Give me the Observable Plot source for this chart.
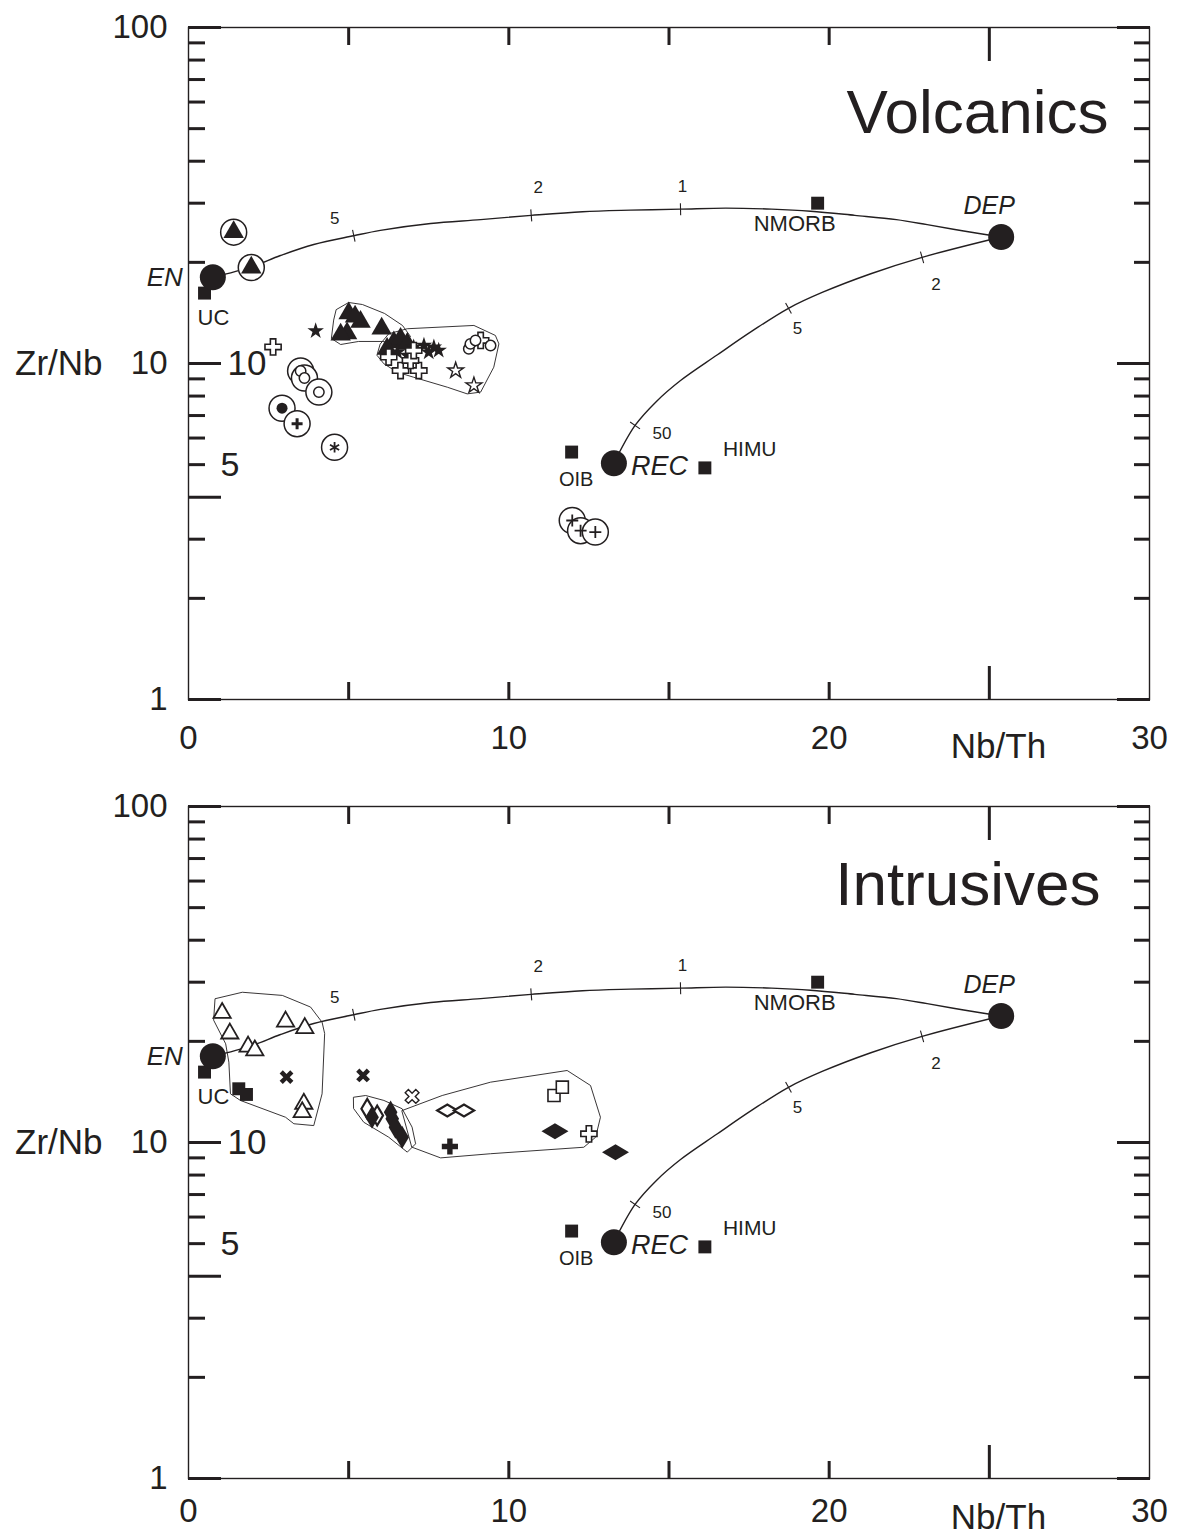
<!DOCTYPE html>
<html>
<head>
<meta charset="utf-8">
<script src="https://cdn.jsdelivr.net/npm/d3@7"></script>
<script src="https://cdn.jsdelivr.net/npm/@observablehq/plot@0.6"></script>
<style>
  body { margin: 0; background: #fff; }
  #chart { width: 1177px; height: 1535px; overflow: hidden; }
  #chart svg { display: block; }
</style>
</head>
<body>
<div id="chart"></div>
<script>
// ---------------------------------------------------------------
// Axis tick values
// ---------------------------------------------------------------
const yOuterLabels = [1, 10, 100];
const yInnerLabels = [10, 5];
const yMajorLeft = [1, 4, 10, 100];
const yMinorLeft = [2, 3, 5, 6, 7, 8, 9, 20, 30, 40, 50, 60, 70, 80, 90];
const yMajorRight = [1, 10, 100];
const yMinorRight = [2, 3, 4, 5, 6, 7, 8, 9, 20, 30, 40, 50, 60, 70, 80, 90];
const xTicksShort = [5, 10, 15, 20];
const xTicksLong = [25];
const xLabels = [0, 10, 20, 30];

// ---------------------------------------------------------------
// Mixing end-members and reference reservoirs (Nb/Th, Zr/Nb)
// ---------------------------------------------------------------
const endMembers = [
  {name: "EN", x: 0.76, y: 18.06},
  {name: "DEP", x: 25.37, y: 23.8},
  {name: "REC", x: 13.28, y: 5.05}
];
const reservoirs = [
  {name: "UC", x: 0.5, y: 16.2},
  {name: "NMORB", x: 19.64, y: 30.0},
  {name: "OIB", x: 11.96, y: 5.45},
  {name: "HIMU", x: 16.12, y: 4.89}
];

// Mixing curves
const mixEnDep = [
  {x: 0.76, y: 18.06}, {x: 1.96, y: 19.4}, {x: 2.87, y: 20.96}, {x: 3.91, y: 22.6},
  {x: 5.16, y: 24.0}, {x: 5.99, y: 24.9}, {x: 7.56, y: 26.1}, {x: 9.12, y: 26.8},
  {x: 10.7, y: 27.6}, {x: 12.3, y: 28.3}, {x: 13.8, y: 28.6}, {x: 15.36, y: 28.8},
  {x: 16.77, y: 29.0}, {x: 18.2, y: 28.8}, {x: 19.42, y: 28.4}, {x: 20.8, y: 27.6},
  {x: 22.1, y: 26.8}, {x: 23.06, y: 25.9}, {x: 24.2, y: 24.8}, {x: 25.37, y: 23.8}
];
const mixRecDep = [
  {x: 13.28, y: 5.05}, {x: 13.94, y: 6.54}, {x: 14.6, y: 7.7}, {x: 15.36, y: 8.9},
  {x: 16.5, y: 10.6}, {x: 17.6, y: 12.5}, {x: 18.73, y: 14.6}, {x: 19.8, y: 16.3},
  {x: 21.3, y: 18.5}, {x: 22.9, y: 20.7}, {x: 25.37, y: 23.8}
];
// Proportion ticks along the curves
const mixTicks = [
  {curve: "EN-DEP", label: "5", x: 5.16, y: 24.0},
  {curve: "EN-DEP", label: "2", x: 10.7, y: 27.6},
  {curve: "EN-DEP", label: "1", x: 15.36, y: 28.8},
  {curve: "REC-DEP", label: "50", x: 13.94, y: 6.54},
  {curve: "REC-DEP", label: "5", x: 18.73, y: 14.6},
  {curve: "REC-DEP", label: "2", x: 22.9, y: 20.7}
];

// ---------------------------------------------------------------
// Samples
// ---------------------------------------------------------------
const volcanics = [
  {mark: "triFill", ring: true, x: 1.41, y: 24.6},
  {mark: "triFill", ring: true, x: 1.96, y: 19.3},
  {mark: "starFill", x: 3.97, y: 12.5},
  {mark: "crossOpen", x: 2.64, y: 11.2},
  {mark: "dotOpen", ring: true, x: 3.5, y: 9.5},
  {mark: "dotOpen", ring: true, x: 3.62, y: 9.05},
  {mark: "dotOpen", ring: true, x: 4.07, y: 8.22},
  {mark: "dotFill", ring: true, x: 2.92, y: 7.36},
  {mark: "plusBold", ring: true, x: 3.39, y: 6.62},
  {mark: "asterisk", ring: true, x: 4.56, y: 5.63},
  {mark: "plusThin", ring: true, x: 11.98, y: 3.41},
  {mark: "plusThin", ring: true, x: 12.24, y: 3.18},
  {mark: "plusThin", ring: true, x: 12.7, y: 3.15},
  {mark: "triFill", x: 5.0, y: 14.1},
  {mark: "triFill", x: 5.37, y: 13.3},
  {mark: "triFill", x: 5.2, y: 13.8},
  {mark: "triFill", x: 4.95, y: 12.3},
  {mark: "triFill", x: 4.75, y: 12.2},
  {mark: "triFill", x: 6.03, y: 12.7},
  {mark: "triFill", x: 6.41, y: 11.57},
  {mark: "triFill", x: 6.62, y: 11.84},
  {mark: "triFill", x: 6.2, y: 11.06},
  {mark: "triFill", x: 6.83, y: 11.44},
  {mark: "starFill", x: 7.03, y: 11.18},
  {mark: "starFill", x: 7.35, y: 11.31},
  {mark: "starFill", x: 7.66, y: 11.18},
  {mark: "starFill", x: 7.81, y: 10.93},
  {mark: "starFill", x: 7.5, y: 10.81},
  {mark: "starFill", x: 6.52, y: 10.81},
  {mark: "starFill", x: 6.83, y: 10.56},
  {mark: "crossOpen", x: 6.62, y: 9.53},
  {mark: "crossOpen", x: 7.19, y: 9.53},
  {mark: "crossOpen", x: 6.93, y: 10.21},
  {mark: "crossOpen", x: 6.25, y: 10.45},
  {mark: "crossOpen", x: 7.03, y: 10.93},
  {mark: "starOpen", x: 8.34, y: 9.53},
  {mark: "starOpen", x: 8.91, y: 8.6},
  {mark: "dotOpen", x: 8.75, y: 11.06},
  {mark: "dotOpen", x: 8.8, y: 11.44},
  {mark: "dotOpen", x: 9.43, y: 11.31},
  {mark: "dotOpen", x: 8.96, y: 11.71},
  {mark: "crossOpen", x: 9.12, y: 11.71}
];
const volcanicFields = [
  [
    {x: 4.62, y: 14.48}, {x: 5.0, y: 15.19}, {x: 5.43, y: 14.98}, {x: 6.12, y: 14.09},
    {x: 6.68, y: 12.98}, {x: 6.93, y: 12.03}, {x: 6.62, y: 11.39}, {x: 6.06, y: 11.63},
    {x: 5.31, y: 11.63}, {x: 4.75, y: 11.39}, {x: 4.46, y: 11.87}, {x: 4.53, y: 13.43}
  ],
  [
    {x: 5.99, y: 11.44}, {x: 6.25, y: 12.26}, {x: 6.83, y: 12.69}, {x: 8.91, y: 12.98},
    {x: 9.58, y: 12.12}, {x: 9.69, y: 11.44}, {x: 9.53, y: 9.75}, {x: 9.12, y: 8.22},
    {x: 8.7, y: 8.12}, {x: 8.08, y: 8.5}, {x: 7.03, y: 9.1}, {x: 6.52, y: 9.42},
    {x: 6.1, y: 9.98}, {x: 5.89, y: 10.56}
  ]
];

const intrusives = [
  {mark: "triOpen", x: 1.05, y: 24.3},
  {mark: "triOpen", x: 1.29, y: 21.1},
  {mark: "triOpen", x: 1.86, y: 19.3},
  {mark: "triOpen", x: 2.07, y: 18.8},
  {mark: "triOpen", x: 3.03, y: 22.9},
  {mark: "triOpen", x: 3.63, y: 21.9},
  {mark: "triOpen", x: 3.6, y: 13.04},
  {mark: "triOpen", x: 3.55, y: 12.31},
  {mark: "sqFill", x: 1.57, y: 14.45},
  {mark: "sqFill", x: 1.81, y: 13.9},
  {mark: "xFill", x: 3.06, y: 15.65},
  {mark: "xFill", x: 5.45, y: 15.83},
  {mark: "xOpen", x: 6.98, y: 13.71},
  {mark: "diaTallOpen", x: 5.58, y: 12.6},
  {mark: "diaTallOpen", x: 5.89, y: 12.03},
  {mark: "diaTallFill", x: 5.73, y: 11.89},
  {mark: "diaTallFill", x: 6.31, y: 12.31},
  {mark: "diaTallFill", x: 6.36, y: 11.77},
  {mark: "diaTallFill", x: 6.46, y: 11.11},
  {mark: "diaTallFill", x: 6.67, y: 10.37},
  {mark: "diaWideOpen", x: 8.08, y: 12.45},
  {mark: "diaWideOpen", x: 8.6, y: 12.45},
  {mark: "plusFill", x: 8.16, y: 9.73},
  {mark: "sqOpen", x: 11.41, y: 13.8},
  {mark: "sqOpen", x: 11.67, y: 14.61},
  {mark: "diaWideFill", x: 11.44, y: 10.81},
  {mark: "crossOpen", x: 12.5, y: 10.61},
  {mark: "diaWideFill", x: 13.33, y: 9.36}
];
const intrusiveFields = [
  [
    {x: 0.84, y: 26.8}, {x: 1.68, y: 28.0}, {x: 2.93, y: 27.4}, {x: 3.81, y: 25.3},
    {x: 4.17, y: 22.8}, {x: 4.25, y: 21.1}, {x: 4.17, y: 13.96}, {x: 3.91, y: 11.23},
    {x: 3.29, y: 11.37}, {x: 3.03, y: 11.89}, {x: 1.62, y: 13.34}, {x: 1.31, y: 13.96},
    {x: 1.26, y: 17.34}, {x: 1.16, y: 19.67}, {x: 0.79, y: 23.07}
  ],
  [
    {x: 5.16, y: 13.64}, {x: 5.53, y: 13.8}, {x: 6.1, y: 13.34}, {x: 6.67, y: 12.6},
    {x: 6.98, y: 11.11}, {x: 7.09, y: 9.91}, {x: 6.83, y: 9.36}, {x: 6.25, y: 10.37},
    {x: 5.47, y: 11.49}, {x: 5.16, y: 12.6}
  ],
  [
    {x: 6.67, y: 12.45}, {x: 7.92, y: 13.8}, {x: 9.43, y: 15.12}, {x: 11.82, y: 16.38},
    {x: 12.55, y: 14.78}, {x: 12.86, y: 11.89}, {x: 12.71, y: 10.37}, {x: 12.34, y: 9.68},
    {x: 9.43, y: 9.26}, {x: 7.87, y: 9.0}, {x: 6.98, y: 9.68}
  ]
];

// ---------------------------------------------------------------
// Layout and styles
// ---------------------------------------------------------------
const W = 1177, H = 779;
const M = {top: 27, right: 28, bottom: 80, left: 188};
const INK = "#231f20";
const SANS = "'Liberation Sans', Arial, Helvetica, sans-serif";

// custom marker shapes (size = pi * r^2, as passed by Plot)
const rOf = (size) => Math.sqrt(size / Math.PI);
const wideDiamond = {
  draw(ctx, size) {
    const r = rOf(size);
    ctx.moveTo(-1.35 * r, 0); ctx.lineTo(0, -0.8 * r);
    ctx.lineTo(1.35 * r, 0); ctx.lineTo(0, 0.8 * r); ctx.closePath();
  }
};
const tallDiamond = {
  draw(ctx, size) {
    const r = rOf(size);
    ctx.moveTo(-0.65 * r, 0); ctx.lineTo(0, -1.1 * r);
    ctx.lineTo(0.65 * r, 0); ctx.lineTo(0, 1.1 * r); ctx.closePath();
  }
};
const saltire = {
  draw(ctx, size) {
    const r = rOf(size), t = 0.3 * r;
    const pts = [[-r, -t], [-t, -t], [-t, -r], [t, -r], [t, -t], [r, -t],
                 [r, t], [t, t], [t, r], [-t, r], [-t, t], [-r, t]];
    const c = Math.SQRT1_2;
    pts.forEach(([px, py], i) => {
      const qx = c * (px - py), qy = c * (px + py);
      i ? ctx.lineTo(qx, qy) : ctx.moveTo(qx, qy);
    });
    ctx.closePath();
  }
};
// simple stroked plus with arms of length r
const plusArms = {
  draw(ctx, size) {
    const r = rOf(size);
    ctx.moveTo(-r, 0); ctx.lineTo(r, 0);
    ctx.moveTo(0, -r); ctx.lineTo(0, r);
  }
};
const tickLine = {
  draw(ctx, size) {
    const r = rOf(size);
    ctx.moveTo(0, -r); ctx.lineTo(0, r);
  }
};

const markStyles = {
  triFill:     {symbol: "triangle", r: 7.6, fill: INK, stroke: "none"},
  triOpen:     {symbol: "triangle", r: 6.4, fill: "white", stroke: INK, strokeWidth: 1.8},
  starFill:    {symbol: "star", r: 5.2, fill: INK, stroke: "none"},
  starOpen:    {symbol: "star", r: 5.0, fill: "white", stroke: INK, strokeWidth: 1.4},
  crossOpen:   {symbol: "cross", r: 6.8, fill: "white", stroke: INK, strokeWidth: 1.6},
  plusFill:    {symbol: "cross", r: 6.8, fill: INK, stroke: "none"},
  dotOpen:     {symbol: "circle", r: 5.2, fill: "white", stroke: INK, strokeWidth: 1.5},
  dotFill:     {symbol: "circle", r: 5.5, fill: INK, stroke: "none"},
  plusBold:    {symbol: plusArms, r: 5.5, fill: "none", stroke: INK, strokeWidth: 3},
  plusThin:    {symbol: plusArms, r: 6, fill: "none", stroke: INK, strokeWidth: 1.8},
  asterisk:    {symbol: "asterisk", r: 5.0, fill: "none", stroke: INK, strokeWidth: 1.8},
  sqFill:      {symbol: "square", r: 7.3, fill: INK, stroke: "none"},
  sqOpen:      {symbol: "square", r: 6.8, fill: "white", stroke: INK, strokeWidth: 1.6},
  xFill:       {symbol: saltire, r: 7.5, fill: INK, stroke: "none"},
  xOpen:       {symbol: saltire, r: 7.5, fill: "white", stroke: INK, strokeWidth: 1.4},
  diaWideOpen: {symbol: wideDiamond, r: 7.5, fill: "white", stroke: INK, strokeWidth: 2.2},
  diaWideFill: {symbol: wideDiamond, r: 10, fill: INK, stroke: "none"},
  diaTallOpen: {symbol: tallDiamond, r: 9, fill: "white", stroke: INK, strokeWidth: 2.2},
  diaTallFill: {symbol: tallDiamond, r: 10.5, fill: INK, stroke: "none"}
};

const labelStyles = {
  EN:    {textAnchor: "end", dx: -30, dy: 0, fontSize: 26, fontStyle: "italic"},
  DEP:   {textAnchor: "middle", dx: -12, dy: -31, fontSize: 25, fontStyle: "italic"},
  REC:   {textAnchor: "start", dx: 17, dy: 3, fontSize: 27, fontStyle: "italic"},
  UC:    {textAnchor: "start", dx: -7, dy: 25, fontSize: 22},
  NMORB: {textAnchor: "middle", dx: -23, dy: 21, fontSize: 22},
  OIB:   {textAnchor: "middle", dx: 4.5, dy: 28, fontSize: 20},
  HIMU:  {textAnchor: "start", dx: 18, dy: -19, fontSize: 21}
};
const tickLabelOffsets = {
  "EN-DEP:5": [-19, -17], "EN-DEP:2": [7, -28], "EN-DEP:1": [2, -23],
  "REC-DEP:50": [27, 8], "REC-DEP:5": [9, 20], "REC-DEP:2": [14, 27]
};

// Plot scales built with the same options as the panels, used to orient
// the small proportion ticks perpendicular to their curve.
const sx = Plot.scale({x: {domain: [0, 30], range: [M.left, W - M.right]}});
const sy = Plot.scale({y: {type: "log", domain: [1, 100], range: [H - M.bottom, M.top]}});
const curves = {"EN-DEP": mixEnDep, "REC-DEP": mixRecDep};
function tickAngle(t) {
  const pts = curves[t.curve];
  let best = 0, bestD = Infinity;
  pts.forEach((p, i) => {
    const d = Math.abs(p.x - t.x) + Math.abs(Math.log10(p.y) - Math.log10(t.y));
    if (d < bestD) { bestD = d; best = i; }
  });
  const a = pts[Math.max(0, best - 1)], b = pts[Math.min(pts.length - 1, best + 1)];
  const dx = sx.apply(b.x) - sx.apply(a.x), dy = sy.apply(b.y) - sy.apply(a.y);
  return Math.atan2(dy, dx) * 180 / Math.PI;
}

function sampleMarks(samples) {
  const marks = [];
  marks.push(Plot.dot(samples.filter(d => d.ring), {
    x: "x", y: "y", r: 13, fill: "white", stroke: INK, strokeWidth: 1.5
  }));
  for (const [key, style] of Object.entries(markStyles)) {
    const subset = samples.filter(d => d.mark === key);
    if (subset.length) marks.push(Plot.dot(subset, {x: "x", y: "y", ...style}));
  }
  return marks;
}

function labelMarks(data) {
  return data.map(d => Plot.text([d], {
    x: "x", y: "y", text: "name", lineAnchor: "middle", fill: INK, ...labelStyles[d.name]
  }));
}

function panel({title, titleOffset, samples, fields, xLabelPad, xTitleDy}) {
  return Plot.plot({
    width: W, height: H,
    marginTop: M.top, marginRight: M.right, marginBottom: M.bottom, marginLeft: M.left,
    x: {domain: [0, 30]},
    y: {type: "log", domain: [1, 100]},
    style: {fontFamily: SANS, color: INK, background: "white", overflow: "visible"},
    marks: [
      // sample fields
      ...fields.map(f => Plot.line(f, {x: "x", y: "y", curve: "linear-closed", stroke: INK, strokeWidth: 0.9})),
      // mixing curves
      Plot.line(mixEnDep, {x: "x", y: "y", curve: "catmull-rom", stroke: INK, strokeWidth: 1.4}),
      Plot.line(mixRecDep, {x: "x", y: "y", curve: "catmull-rom", stroke: INK, strokeWidth: 1.4}),
      Plot.dot(mixTicks, {x: "x", y: "y", symbol: tickLine, r: 6, stroke: INK, strokeWidth: 1.1,
        rotate: d => tickAngle(d)}),
      ...mixTicks.map(d => Plot.text([d], {x: "x", y: "y", text: "label", fontSize: 17,
        fill: INK, lineAnchor: "middle", dx: tickLabelOffsets[`${d.curve}:${d.label}`][0],
        dy: tickLabelOffsets[`${d.curve}:${d.label}`][1]})),
      // samples
      ...sampleMarks(samples),
      // reservoirs and end-members
      Plot.dot(reservoirs, {x: "x", y: "y", symbol: "square", r: 7.3, fill: INK}),
      Plot.dot(endMembers, {x: "x", y: "y", r: 13, fill: INK}),
      ...labelMarks(reservoirs),
      ...labelMarks(endMembers),
      // frame and ticks
      Plot.frame({stroke: INK, strokeWidth: 1.4}),
      Plot.axisY({anchor: "left", ticks: yMinorLeft, tickSize: -17, tickFormat: () => "", label: null, strokeWidth: 3, stroke: INK}),
      Plot.axisY({anchor: "left", ticks: yMajorLeft, tickSize: -33, tickFormat: () => "", label: null, strokeWidth: 3, stroke: INK}),
      Plot.axisY({anchor: "right", ticks: yMinorRight, tickSize: -16, tickFormat: () => "", label: null, strokeWidth: 3, stroke: INK}),
      Plot.axisY({anchor: "right", ticks: yMajorRight, tickSize: -33, tickFormat: () => "", label: null, strokeWidth: 3, stroke: INK}),
      Plot.axisX({anchor: "bottom", ticks: xTicksShort, tickSize: -17, tickFormat: () => "", label: null, strokeWidth: 3, stroke: INK}),
      Plot.axisX({anchor: "bottom", ticks: xTicksLong, tickSize: -33, tickFormat: () => "", label: null, strokeWidth: 3, stroke: INK}),
      Plot.axisX({anchor: "top", ticks: xTicksShort, tickSize: -17, tickFormat: () => "", label: null, strokeWidth: 3, stroke: INK}),
      Plot.axisX({anchor: "top", ticks: xTicksLong, tickSize: -33, tickFormat: () => "", label: null, strokeWidth: 3, stroke: INK}),
      // tick labels
      Plot.axisY({anchor: "left", ticks: yOuterLabels, tickSize: 0, tickPadding: 21, label: null,
        fontSize: 33, fill: INK, tickFormat: d => String(d)}),
      Plot.axisX({anchor: "bottom", ticks: xLabels, tickSize: 0, tickPadding: xLabelPad, label: null,
        fontSize: 33, fill: INK, tickFormat: d => String(d)}),
      Plot.text(yInnerLabels.slice(0, 1), {y: d => d, text: d => String(d), frameAnchor: "left",
        dx: 39, textAnchor: "start", lineAnchor: "middle", fontSize: 35, fill: INK}),
      Plot.text(yInnerLabels.slice(1), {y: d => d, text: d => String(d), frameAnchor: "left",
        dx: 32, textAnchor: "start", lineAnchor: "middle", fontSize: 34, fill: INK}),
      // axis titles
      Plot.text(["Zr/Nb"], {frameAnchor: "left", dx: -86, textAnchor: "end", lineAnchor: "middle",
        fontSize: 35, fill: INK}),
      Plot.text(["Nb/Th"], {frameAnchor: "bottom-right", dx: -151, dy: xTitleDy, textAnchor: "middle",
        lineAnchor: "bottom", fontSize: 35, fill: INK}),
      // panel title
      Plot.text([title], {frameAnchor: "top-right", dx: titleOffset[0], dy: titleOffset[1],
        textAnchor: "end", lineAnchor: "bottom", fontSize: 62, fill: INK})
    ]
  });
}

const chart = document.getElementById("chart");
chart.append(panel({title: "Volcanics", titleOffset: [-41, 105], samples: volcanics,
  fields: volcanicFields, xLabelPad: 26, xTitleDy: 58}));
chart.append(panel({title: "Intrusives", titleOffset: [-49, 98], samples: intrusives,
  fields: intrusiveFields, xLabelPad: 20, xTitleDy: 50}));
</script>
</body>
</html>
